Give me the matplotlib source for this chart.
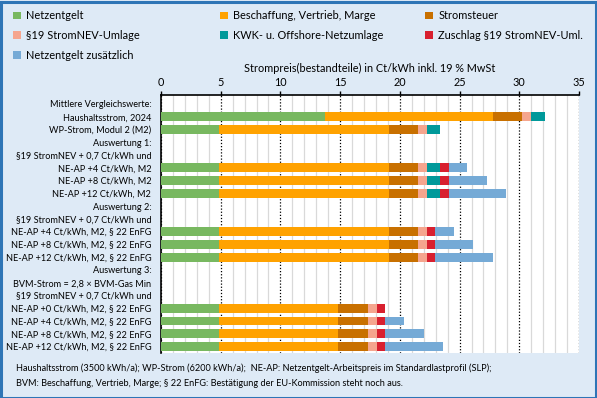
import matplotlib
matplotlib.use("Agg")
import matplotlib.pyplot as plt
import numpy as np
from matplotlib.patches import Patch, Rectangle

plt.rcParams['font.family'] = ['Lato', 'DejaVu Sans']

labels = [
    "Mittlere Vergleichswerte:",
    "Haushaltsstrom, 2024",
    "WP-Strom, Modul 2 (M2)",
    "Auswertung 1:",
    "§19 StromNEV + 0,7 Ct/kWh und",
    "NE-AP +4 Ct/kWh, M2",
    "NE-AP +8 Ct/kWh, M2",
    "NE-AP +12 Ct/kWh, M2",
    "Auswertung 2:",
    "§19 StromNEV + 0,7 Ct/kWh und",
    "NE-AP +4 Ct/kWh, M2, § 22 EnFG",
    "NE-AP +8 Ct/kWh, M2, § 22 EnFG",
    "NE-AP +12 Ct/kWh, M2, § 22 EnFG",
    "Auswertung 3:",
    "BVM-Strom = 2,8 × BVM-Gas Min",
    "§19 StromNEV + 0,7 Ct/kWh und",
    "NE-AP +0 Ct/kWh, M2, § 22 EnFG",
    "NE-AP +4 Ct/kWh, M2, § 22 EnFG",
    "NE-AP +8 Ct/kWh, M2, § 22 EnFG",
    "NE-AP +12 Ct/kWh, M2, § 22 EnFG",
]

netzentgelt   = [0, 13.72, 4.83, 0, 0, 4.83, 4.83, 4.83, 0, 0, 4.83, 4.83, 4.83, 0, 0, 0, 4.83, 4.83, 4.83, 4.83]
beschaffung   = [0, 14.08, 14.24, 0, 0, 14.24, 14.24, 14.24, 0, 0, 14.24, 14.24, 14.24, 0, 0, 0, 10.03, 10.03, 10.03, 10.03]
stromsteuer   = [0, 2.45, 2.45, 0, 0, 2.45, 2.45, 2.45, 0, 0, 2.45, 2.45, 2.45, 0, 0, 0, 2.45, 2.45, 2.45, 2.45]
umlage19      = [0, 0.76, 0.75, 0, 0, 0.75, 0.75, 0.75, 0, 0, 0.75, 0.75, 0.75, 0, 0, 0, 0.75, 0.75, 0.75, 0.75]
kwk_offshore  = [0, 1.12, 1.09, 0, 0, 1.11, 1.11, 1.11, 0, 0, 0, 0, 0, 0, 0, 0, 0, 0, 0, 0]
zuschlag19    = [0, 0, 0, 0, 0, 0.70, 0.70, 0.70, 0, 0, 0.70, 0.70, 0.70, 0, 0, 0, 0.73, 0.73, 0.73, 0.73]
netz_zusatz   = [0, 0, 0, 0, 0, 1.56, 3.18, 4.77, 0, 0, 1.59, 3.18, 4.80, 0, 0, 0, 0, 1.59, 3.20, 4.79]

series = [
    ("Netzentgelt", netzentgelt, "#78B860"),
    ("Beschaffung, Vertrieb, Marge", beschaffung, "#FFA200"),
    ("Stromsteuer", stromsteuer, "#C87000"),
    ("§19 StromNEV-Umlage", umlage19, "#F5A58E"),
    ("KWK- u. Offshore-Netzumlage", kwk_offshore, "#00999A"),
    ("Zuschlag §19 StromNEV-Uml.", zuschlag19, "#D8202F"),
    ("Netzentgelt zusätzlich", netz_zusatz, "#75AAD6"),
]

W, H = 597, 398
fig = plt.figure(figsize=(W / 100, H / 100), dpi=100)
fig.patch.set_facecolor("#DEEAF6")

ax = fig.add_axes([161 / W, 1 - 353 / H, (579 - 161) / W, (353 - 95) / H])
ax.set_facecolor("white")

y = np.arange(len(labels))
left = np.zeros(len(labels))
handles = []
for name, vals, col in series:
    v = np.array(vals, dtype=float)
    ax.barh(y, v, left=left, height=0.68, color=col, edgecolor="none", zorder=3)
    left += v
    handles.append(Patch(facecolor=col, edgecolor="none", label=name))

ax.set_xlim(0, 35)
ax.set_ylim(19.5, -0.7)
ax.set_yticks(y)
ax.set_yticklabels(labels, fontsize=6.6)
ax.tick_params(axis="y", length=0, pad=7)

ax.xaxis.tick_top()
ax.xaxis.set_label_position("top")
ax.set_xticks(np.arange(0, 36, 5))
ax.tick_params(axis="x", direction="out", length=3, width=1, labelsize=7.8, pad=2)
ax.set_xticks(np.arange(0, 36, 1), minor=True)
ax.tick_params(axis="x", which="minor", length=0)
ax.set_xlabel("Strompreis(bestandteile) in Ct/kWh inkl. 19 % MwSt", fontsize=7.8, labelpad=4)

ax.grid(axis="x", which="minor", color="#D9D9D9", linewidth=0.9, zorder=0)
ax.grid(axis="x", which="major", color="black", linestyle=(0, (1, 1.5)), linewidth=0.9, zorder=1)
ax.set_axisbelow(True)

for s in ["right", "bottom"]:
    ax.spines[s].set_visible(False)
ax.spines["top"].set_linewidth(1.2)
ax.spines["left"].set_linewidth(1.2)

# Legend: three columns placed like the reference
cols = [[0, 3, 6], [1, 4], [2, 5]]
xs = [10 / W, 217 / W, 422 / W]
for xi, idx in zip(xs, cols):
    fig.legend([handles[i] for i in idx], [handles[i].get_label() for i in idx],
               loc="upper left", bbox_to_anchor=(xi, 1 - 7 / H), frameon=False,
               fontsize=7.9, handlelength=0.7, handleheight=0.7, handletextpad=0.5,
               labelspacing=0.8, borderaxespad=0, borderpad=0.3)

fig.text(16 / W, 1 - 368 / H, "Haushaltsstrom (3500 kWh/a); WP-Strom (6200 kWh/a);  NE-AP: Netzentgelt-Arbeitspreis im Standardlastprofil (SLP);",
         fontsize=6.6, va="center", ha="left")
fig.text(16 / W, 1 - 384 / H, "BVM: Beschaffung, Vertrieb, Marge; § 22 EnFG: Bestätigung der EU-Kommission steht noch aus.",
         fontsize=6.6, va="center", ha="left")

fig.patches.append(Rectangle((0.5 / W, 0.5 / H), 1 - 2 / W, 1 - 2 / H, transform=fig.transFigure,
                             fill=False, edgecolor="#2E75B6", linewidth=2.2))

fig.savefig("out.png", dpi=100, facecolor=fig.get_facecolor())
